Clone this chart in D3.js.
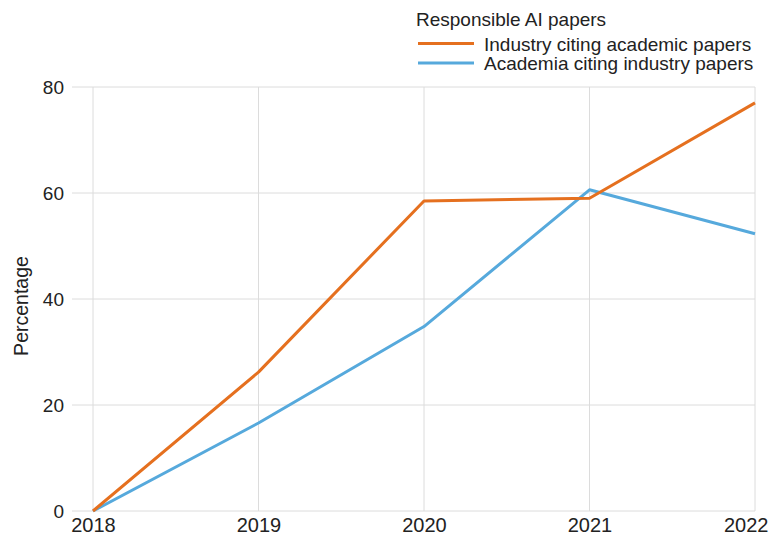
<!DOCTYPE html>
<html><head><meta charset="utf-8">
<script src="https://cdn.jsdelivr.net/npm/d3@7"></script>
<style>body{margin:0;background:#fff;}text{font-family:"Liberation Sans",Arial,sans-serif;}</style>
</head><body>
<svg id="c" width="771" height="535"></svg>
<script>
const years = ["2018","2019","2020","2021","2022"];
const industryCitingAcademic = [0, 26.2, 58.5, 59.0, 77.0];
const academiaCitingIndustry = [0, 16.6, 34.8, 60.6, 52.3];
const yTicks = [0, 20, 40, 60, 80];
const seriesNames = ["Industry citing academic papers", "Academia citing industry papers"];
const colors = ["#e5701f", "#56a9dc"];
const legendTitle = "Responsible AI papers";
const yTitle = "Percentage";

const svg = d3.select("#c");
const x = d3.scalePoint().domain(years).range([93, 755]);
const y = d3.scaleLinear().domain([0, 80]).range([511, 87]);
const FONT = "Liberation Sans, Arial, sans-serif";

// gridlines
svg.append("g").selectAll("line").data(yTicks).join("line")
  .attr("x1", 72).attr("x2", 755).attr("y1", d => y(d)).attr("y2", d => y(d))
  .attr("stroke", "#dcdcdc").attr("stroke-width", 1);
svg.append("g").selectAll("line").data(years).join("line")
  .attr("x1", d => x(d)).attr("x2", d => x(d)).attr("y1", y(80)).attr("y2", y(0))
  .attr("stroke", "#dcdcdc").attr("stroke-width", 1);

// axes
const yAxis = svg.append("g").attr("transform", "translate(72,0)")
  .call(d3.axisLeft(y).tickValues(yTicks).tickSize(0).tickPadding(8));
yAxis.select(".domain").remove();
yAxis.selectAll("text").attr("font-size", 19).attr("fill", "#222").attr("font-family", FONT);

const xAxis = svg.append("g").attr("transform", `translate(0,${y(0)})`)
  .call(d3.axisBottom(x).tickSize(0).tickPadding(6.5));
xAxis.select(".domain").remove();
xAxis.selectAll("text").attr("font-size", 20).attr("fill", "#222").attr("font-family", FONT);
// keep the last label inside the picture, as in the reference
xAxis.selectAll(".tick").filter(d => d === years[years.length - 1])
  .select("text").attr("text-anchor", "end").attr("x", 768 - x(years[years.length - 1]));

svg.append("text").attr("transform", "translate(28,306) rotate(-90)")
  .attr("text-anchor", "middle").attr("font-size", 19.5).attr("fill", "#222").text(yTitle);

// lines
const data = [industryCitingAcademic, academiaCitingIndustry];
const line = d3.line().x((d, i) => x(years[i])).y(d => y(d));
svg.append("g").selectAll("path").data(data.slice().reverse()).join("path")
  .attr("d", line).attr("fill", "none")
  .attr("stroke", (d, i) => colors[1 - i]).attr("stroke-width", 3)
  .attr("stroke-linejoin", "round");

// legend
const lg = svg.append("g");
lg.append("text").attr("x", 416).attr("y", 26).attr("font-size", 19).attr("fill", "#222").text(legendTitle);
seriesNames.forEach((n, i) => {
  const yy = 43.5 + i * 19.5;
  lg.append("line").attr("x1", 418).attr("x2", 474).attr("y1", yy).attr("y2", yy)
    .attr("stroke", colors[i]).attr("stroke-width", 3);
  lg.append("text").attr("x", 484).attr("y", yy + 7).attr("font-size", 19).attr("fill", "#222").text(n);
});
</script>
</body></html>
